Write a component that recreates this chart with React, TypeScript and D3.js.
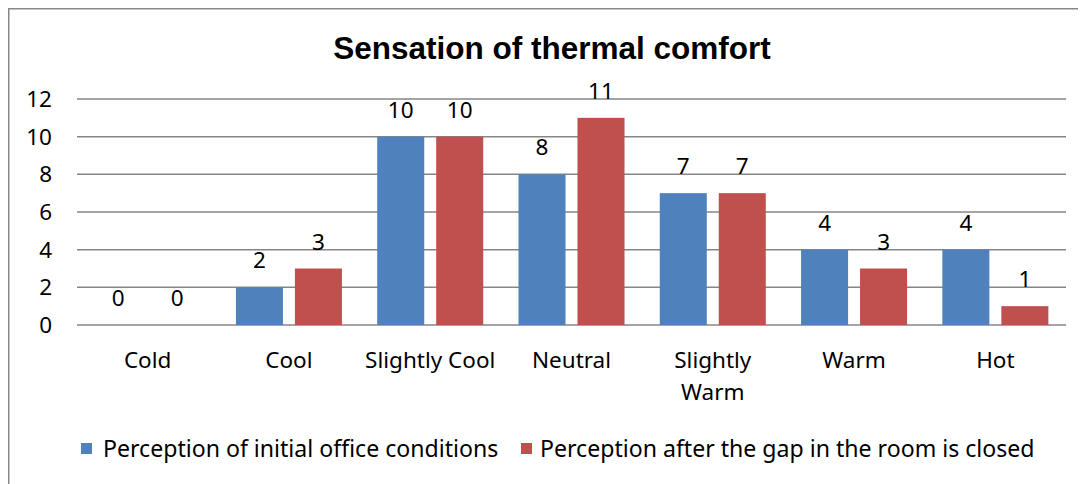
import React from "react";
import * as d3 from "d3";

const categories: string[][] = [["Cold"], ["Cool"], ["Slightly Cool"], ["Neutral"], ["Slightly", "Warm"], ["Warm"], ["Hot"]];
const seriesNames = ["Perception of initial office conditions", "Perception after the gap in the room is closed"];
const initialValues = [0, 2, 10, 8, 7, 4, 4];
const afterValues = [0, 3, 10, 11, 7, 3, 1];
const yTicks = [0, 2, 4, 6, 8, 10, 12];
const colors = ["#4F81BD", "#C0504D"];
const title = "Sensation of thermal comfort";

const W = 1078;
const H = 476;
const left = 69, right = 1058, top = 91, bottom = 317;
const font = "'Noto Sans', sans-serif";
const fs = 22.5;

export default function App() {
  const keys = categories.map((c) => c.join(" "));
  const x0 = d3.scaleBand<string>().domain(keys).range([left, right]).padding(0);
  const x1 = d3.scaleBand<string>().domain(["a", "b"]).range([0, x0.bandwidth()]).paddingInner(0.203).paddingOuter(0.299);
  const y = d3.scaleLinear().domain([0, 12]).range([bottom, top]);
  const series = [initialValues, afterValues];
  const keysS = ["a", "b"];
  return (
    <svg width={W} height={H} style={{ display: "block" }}>
      <rect x={0.75} y={0.75} width={1300} height={1000} fill="#fff" stroke="#888" strokeWidth={1.5} />
      <text x={544} y={51} textAnchor="middle" fontFamily="'Liberation Sans', Arial, sans-serif" fontWeight="bold" fontSize={31.5}>{title}</text>
      {yTicks.map((t) => (
        <g key={t}>
          <line x1={left} x2={right} y1={y(t)} y2={y(t)} stroke="#868686" strokeWidth={1.5} />
          <text x={44} y={y(t)} dy="0.36em" textAnchor="end" fontFamily={font} fontSize={fs}>{t}</text>
        </g>
      ))}
      {keys.map((k, i) => (
        <g key={k}>
          {series.map((vals, s) => {
            const bx = (x0(k) as number) + (x1(keysS[s]) as number);
            const v = vals[i];
            return (
              <g key={s}>
                {v > 0 && (
                  <rect x={bx} y={y(v)} width={x1.bandwidth()} height={y(0) - y(v)} fill={colors[s]} />
                )}
                <text x={bx + x1.bandwidth() / 2} y={y(v) - 19} textAnchor="middle" fontFamily={font} fontSize={fs}>{v}</text>
              </g>
            );
          })}
          {categories[i].map((line, j) => (
            <text key={j} x={(x0(k) as number) + x0.bandwidth() / 2} y={360 + j * 32} textAnchor="middle" fontFamily={font} fontSize={fs}>{line}</text>
          ))}
        </g>
      ))}
      {seriesNames.map((n, s) => {
        const lx = s === 0 ? 73 : 513;
        return (
          <g key={n}>
            <rect x={lx} y={435} width={11} height={11} fill={colors[s]} />
            <text x={lx + (s === 0 ? 22 : 19)} y={448.5} fontFamily={font} fontSize={23.1}>{n}</text>
          </g>
        );
      })}
    </svg>
  );
}
